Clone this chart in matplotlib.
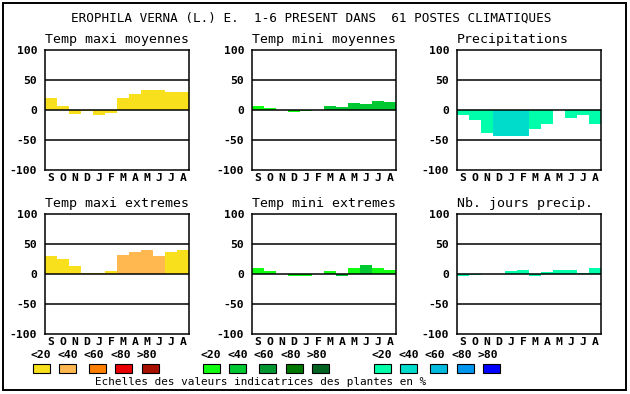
import matplotlib
matplotlib.use('Agg')
import matplotlib.pyplot as plt
from matplotlib.patches import Rectangle

# Data
months = ['S', 'O', 'N', 'D', 'J', 'F', 'M', 'A', 'M', 'J', 'J', 'A']
scale_labels = ['<20', '<40', '<60', '<80', '>80']

warm_colors = ['#f8e01c', '#ffb84f', '#ff8000', '#e80000', '#a81000']
green_colors = ['#10ff10', '#00c832', '#009632', '#007800', '#006420']
blue_colors = ['#00ffaa', '#00dccc', '#00bbdd', '#0096ee', '#0000ff']

tmax_moy = [20, 7, -6, -2, -8, -5, 20, 27, 33, 33, 30, 30]
tmax_moy_cls = [0, 0, 0, 0, 0, 0, 0, 0, 0, 0, 0, 0]
tmin_moy = [7, 3, 0, -4, -2, 0, 7, 5, 12, 10, 15, 13]
tmin_moy_cls = [0, 0, 0, 0, 0, 0, 1, 1, 1, 1, 1, 1]
precip = [-8, -16, -38, -44, -44, -44, -31, -24, 0, -13, -8, -23]
precip_cls = [0, 0, 0, 1, 1, 1, 0, 0, 0, 0, 0, 0]
tmax_ext = [30, 25, 13, 2, 2, 5, 32, 37, 40, 30, 37, 40]
tmax_ext_cls = [0, 0, 0, 0, 0, 0, 1, 1, 1, 1, 0, 0]
tmin_ext = [10, 5, 0, -3, -3, 0, 5, -4, 10, 15, 10, 7]
tmin_ext_cls = [0, 0, 0, 0, 0, 0, 0, 1, 0, 1, 0, 0]
nb_jours = [-4, -2, 0, 0, 5, 7, -3, 4, 7, 7, 2, 10]
nb_jours_cls = [0, 0, 0, 0, 0, 0, 0, 0, 0, 0, 0, 0]

panels = [
    ('Temp maxi moyennes', tmax_moy, tmax_moy_cls, warm_colors),
    ('Temp mini moyennes', tmin_moy, tmin_moy_cls, green_colors),
    ('Precipitations', precip, precip_cls, blue_colors),
    ('Temp maxi extremes', tmax_ext, tmax_ext_cls, warm_colors),
    ('Temp mini extremes', tmin_ext, tmin_ext_cls, green_colors),
    ('Nb. jours precip.', nb_jours, nb_jours_cls, blue_colors),
]

W, H = 630, 394
mono = 'DejaVu Sans Mono'

fig = plt.figure(figsize=(W / 100, H / 100), dpi=100)
fig.patch.set_facecolor('white')

# outer frame
fig.add_artist(Rectangle((3 / W, 1 - 390 / H), 623 / W, 387 / H, transform=fig.transFigure,
                         fill=False, edgecolor='black', lw=1.4))

fig.text(311 / W, 1 - 18 / H, 'EROPHILA VERNA (L.) E.  1-6 PRESENT DANS  61 POSTES CLIMATIQUES',
         ha='center', va='center', family=mono, fontsize=9.1)

col_left = [45, 252, 457]
row_top = [50, 214]

for i, (title, vals, cls, cols) in enumerate(panels):
    r, c = divmod(i, 3)
    x0 = col_left[c]
    y0 = row_top[r]
    ax = fig.add_axes([x0 / W, 1 - (y0 + 120) / H, 144 / W, 120 / H])
    ax.bar(range(12), vals, width=1.0, color=[cols[k] for k in cls], lw=0, zorder=1)
    for yv in (-50, 0, 50):
        ax.axhline(yv, color='black', lw=1.1, zorder=2)
    ax.set_xlim(-0.5, 11.5)
    ax.set_ylim(-100, 100)
    ax.set_yticks([-100, -50, 0, 50, 100])
    ax.set_yticklabels(['-100', '-50', '0', '50', '100'], family=mono, fontweight='bold', fontsize=8.2)
    ax.set_xticks(range(12))
    ax.set_xticklabels(months, family=mono, fontweight='bold', fontsize=8.2)
    ax.tick_params(axis='y', length=0, pad=5.5)
    ax.tick_params(axis='x', length=0, pad=2)
    for s in ax.spines.values():
        s.set_linewidth(1.1)
    ax.text(0, 1.03, title, transform=ax.transAxes, ha='left', va='bottom',
            family=mono, fontsize=9.5)

# colour scale legends
legend_sets = [
    (warm_colors, 41),
    (green_colors, 211),
    (blue_colors, 382),
]
steps = [0, 26.5, 56, 83, 109.5]
for cols, cx0 in legend_sets:
    for k in range(5):
        cx = cx0 + steps[k]
        lx = cx0 + 26.5 * k
        fig.text(lx / W, 1 - 355 / H, scale_labels[k], ha='center', va='center',
                 family=mono, fontweight='bold', fontsize=8.2)
        fig.add_artist(Rectangle(((cx - 8.5) / W, 1 - 373 / H), 17 / W, 9 / H,
                                 transform=fig.transFigure, facecolor=cols[k],
                                 edgecolor='black', lw=0.8))

fig.text(261 / W, 1 - 382 / H, 'Echelles des valeurs indicatrices des plantes en %',
         ha='center', va='center', family=mono, fontsize=7.9)

plt.savefig('out.png', dpi=100)
